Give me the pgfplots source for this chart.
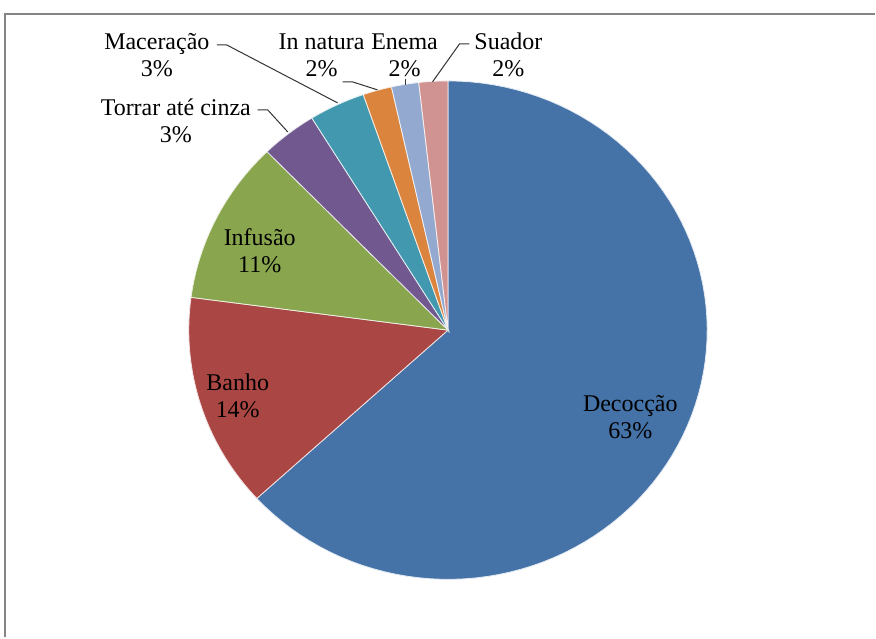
\documentclass[border=0pt]{standalone}
\usepackage{pgfplots}
\pgfplotsset{compat=1.18}
\usepackage{pgfplotstable}
\usepackage{fontspec}
\setmainfont{Liberation Serif}

\definecolor{c0}{HTML}{4572A7}
\definecolor{c1}{HTML}{AA4643}
\definecolor{c2}{HTML}{89A54E}
\definecolor{c3}{HTML}{71588F}
\definecolor{c4}{HTML}{4198AF}
\definecolor{c5}{HTML}{DB843D}
\definecolor{c6}{HTML}{93A9CF}
\definecolor{c7}{HTML}{D19392}

% share of each preparation method (percent)
\pgfplotstableread{
name value
Decoccao 63.2
Banho 13.9
Infusao 10.6
Torrar 3.5
Maceracao 3.5
Innatura 1.8
Enema 1.7
Suador 1.8
}\datatable

\begin{document}
\begin{tikzpicture}
\begin{axis}[
  scale only axis, width=438pt, height=319pt,
  xmin=0, xmax=876, ymin=0, ymax=638,
  hide axis, clip=false,
]
\path (axis cs:0,0) rectangle (axis cs:876,638);
\draw[color=black!48, line width=1pt] (axis cs:5.5,0) -- (axis cs:5.5,623.5) -- (axis cs:876,623.5);

\pgfmathsetmacro{\cum}{0}
\pgfplotsforeachungrouped \i in {0,...,7}{
  \pgfplotstablegetelem{\i}{value}\of\datatable
  \let\v\pgfplotsretval
  \pgfmathsetmacro{\a}{90-3.6*\cum}
  \pgfmathsetmacro{\b}{90-3.6*(\cum+\v)}
  \pgfmathsetmacro{\cum}{\cum+\v}
  \edef\temp{\noexpand\addplot[fill=c\i, draw=white!85!c\i, line width=0.4pt, domain=\b:\a, samples=90, variable=\noexpand\t]
    ({448.5+259.5*cos(\noexpand\t)},{307.5+249.5*sin(\noexpand\t)}) -- (axis cs:448.5,307.5) -- cycle;}
  \temp
}

\tikzset{lbl/.style={align=center, font=\fontsize{12}{13.5}\selectfont, inner sep=0pt}}
\node[lbl] at (axis cs:631,220) {Decocção\\63\%};
\node[lbl] at (axis cs:238,242) {Banho\\14\%};
\node[lbl] at (axis cs:260,387) {Infusão\\11\%};
\node[lbl] at (axis cs:176,517) {Torrar até cinza\\3\%};
\node[lbl] at (axis cs:157,583) {Maceração\\3\%};
\node[lbl] at (axis cs:322,583) {In natura\\2\%};
\node[lbl] at (axis cs:405,583) {Enema\\2\%};
\node[lbl] at (axis cs:509,583) {Suador\\2\%};

\tikzset{lead/.style={draw=black!80, line width=0.5pt}}
\draw[lead] (axis cs:217,593) -- (axis cs:227,593) -- (axis cs:338,535);
\draw[lead] (axis cs:343,556) -- (axis cs:353,556) -- (axis cs:378,548);
\draw[lead] (axis cs:406,559) -- (axis cs:406,553);
\draw[lead] (axis cs:470,594) -- (axis cs:460,594) -- (axis cs:433,556);
\draw[lead] (axis cs:258,528) -- (axis cs:268,528) -- (axis cs:288,506);
\end{axis}
\end{tikzpicture}
\end{document}
